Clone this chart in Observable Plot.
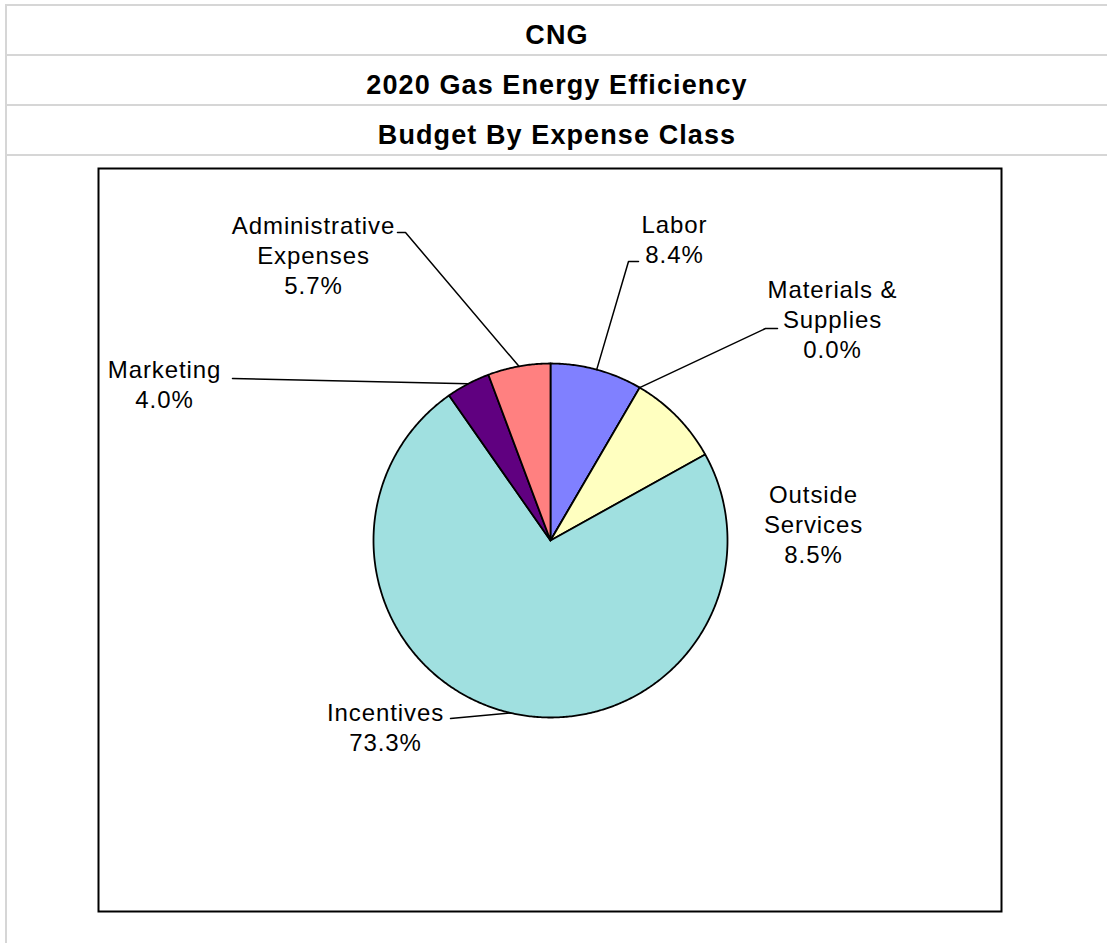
<!DOCTYPE html>
<html>
<head>
<meta charset="utf-8">
<script src="https://cdn.jsdelivr.net/npm/d3@7"></script>
<script src="https://cdn.jsdelivr.net/npm/@observablehq/plot@0.6"></script>
<style>
html, body { margin: 0; padding: 0; background: #fff; }
body { position: relative; width: 1107px; height: 943px; overflow: hidden; font-family: "Liberation Sans", Arial, sans-serif; }
#vline { position: absolute; left: 5px; top: 4px; width: 2px; height: 939px; background: #d6d6d6; }
#header { position: absolute; left: 7px; top: 4px; width: 1100px; border-top: 2px solid #d6d6d6; }
.row { height: 48px; border-bottom: 2px solid #d6d6d6; text-align: center; font-weight: bold; font-size: 27px; letter-spacing: 1.1px; line-height: 30px; color: #000; }
.row span { display: block; padding-top: 14px; }
#chart { position: absolute; left: 0; top: 156px; }
</style>
</head>
<body>
<div id="vline"></div>
<div id="header"></div>
<div id="chart"></div>
<script>
// ---- data ----
const titleLines = ["CNG", "2020 Gas Energy Efficiency", "Budget By Expense Class"];
const categories = ["Labor", "Materials & Supplies", "Outside Services", "Incentives", "Marketing", "Administrative Expenses"];
const shares = [8.4, 0.0, 8.5, 73.3, 4.0, 5.7];
const labelNames = ["Labor", "Materials &\nSupplies", "Outside\nServices", "Incentives", "Marketing", "Administrative\nExpenses"];
const sliceColors = ["#8080FF", "#993366", "#FFFFC0", "#A0E0E0", "#600080", "#FF8080"];

// ---- layout (pixels relative to the pie centre) ----
const R = 177;
const FS = 24, LH = 1.27;
const labelLayout = [
  {dx: 124, dy: -308, leader: [[78, -279], [88, -279]]},
  {dx: 282, dy: -243, leader: [[215, -212], [227, -212]]},
  {dx: 263, dy: -38, leader: null},
  {dx: -165, dy: 180, leader: [[-100, 178]]},
  {dx: -386, dy: -163, leader: [[-318, -162]]},
  {dx: -237, dy: -307, leader: [[-145, -308], [-153, -308]]}
];

// header rows
const header = document.getElementById("header");
for (const t of titleLines) {
  const row = document.createElement("div");
  row.className = "row";
  const span = document.createElement("span");
  span.textContent = t;
  row.appendChild(span);
  header.appendChild(row);
}

// pie geometry
const arcs = d3.pie().sort(null).value(d => d)(shares);
const polyPts = [];
arcs.forEach((a, i) => {
  const name = categories[i], color = sliceColors[i];
  const n = Math.max(1, Math.ceil((a.endAngle - a.startAngle) / (Math.PI / 360)));
  polyPts.push({name, color, x: 0, y: 0});
  for (let k = 0; k <= n; k++) {
    const t = a.startAngle + (a.endAngle - a.startAngle) * k / n;
    polyPts.push({name, color, x: R * Math.sin(t), y: -R * Math.cos(t)});
  }
  polyPts.push({name, color, x: 0, y: 0});
});

const leaderPts = [];
arcs.forEach((a, i) => {
  const L = labelLayout[i];
  if (!L.leader) return;
  const m = (a.startAngle + a.endAngle) / 2;
  leaderPts.push({name: categories[i], x: R * Math.sin(m), y: -R * Math.cos(m)});
  for (const [x, y] of L.leader) leaderPts.push({name: categories[i], x, y});
});

const labels = categories.map((c, i) => ({
  text: labelNames[i] + "\n" + shares[i].toFixed(1) + "%",
  x: labelLayout[i].dx,
  y: labelLayout[i].dy - 0.71 * LH * FS
}));

const chart = Plot.plot({
  width: 1107,
  height: 787,
  marginLeft: 98,
  marginRight: 106,
  marginTop: 12,
  marginBottom: 32,
  x: {domain: [-452, 451], axis: null},
  y: {domain: [-372, 371], reverse: true, axis: null},
  color: {type: "identity"},
  style: {fontFamily: "'Liberation Sans', Arial, sans-serif", letterSpacing: "0.9px", background: "transparent", overflow: "visible"},
  marks: [
    Plot.frame({stroke: "#000", strokeWidth: 2}),
    Plot.line(polyPts, {x: "x", y: "y", z: "name", fill: "color", stroke: "#000", strokeWidth: 1.8, strokeLinejoin: "round"}),
    Plot.line(leaderPts, {x: "x", y: "y", z: "name", stroke: "#000", strokeWidth: 1.5}),
    Plot.text(labels, {x: "x", y: "y", text: "text", lineAnchor: "top", lineHeight: LH, fontSize: FS, textAnchor: "middle", fill: "#000"})
  ]
});
document.getElementById("chart").appendChild(chart);
</script>
</body>
</html>
